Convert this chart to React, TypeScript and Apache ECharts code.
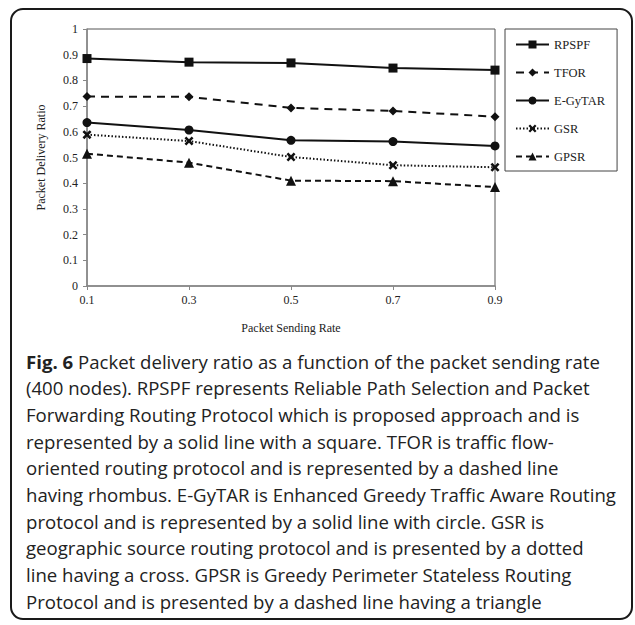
import React, { useEffect, useRef } from "react";
import * as echarts from "echarts";

// Packet sending rate (x categories)
const sendingRates = ["0.1", "0.3", "0.5", "0.7", "0.9"];

// Packet delivery ratio per protocol
const rpspf = [0.885, 0.871, 0.868, 0.848, 0.84];
const tfor = [0.737, 0.736, 0.693, 0.681, 0.659];
const egytar = [0.636, 0.607, 0.567, 0.562, 0.545];
const gsr = [0.589, 0.564, 0.502, 0.47, 0.462];
const gpsr = [0.515, 0.48, 0.41, 0.408, 0.385];

const captionLines = [
  "(400 nodes). RPSPF represents Reliable Path Selection and Packet",
  "Forwarding Routing Protocol which is proposed approach and is",
  "represented by a solid line with a square. TFOR is traffic flow-",
  "oriented routing protocol and is represented by a dashed line",
  "having rhombus. E-GyTAR is Enhanced Greedy Traffic Aware Routing",
  "protocol and is represented by a solid line with circle. GSR is",
  "geographic source routing protocol and is presented by a dotted",
  "line having a cross. GPSR is Greedy Perimeter Stateless Routing",
  "Protocol and is presented by a dashed line having a triangle",
];

const CROSS = "path://M0,2 L2,0 L5,3 L8,0 L10,2 L7,5 L10,8 L8,10 L5,7 L2,10 L0,8 L3,5 Z";
const INK = "#111";
const SERIF = "'Liberation Serif', 'Times New Roman', serif";
const SANS = "'Open Sans', 'Noto Sans', sans-serif";
const CAP_SIZE = 18.6;

export default function App() {
  const ref = useRef<HTMLDivElement>(null);

  useEffect(() => {
    if (!ref.current) return;
    const chart = echarts.init(ref.current, undefined, { renderer: "svg" });

    const mk = (
      name: string,
      data: number[],
      symbol: string,
      symbolSize: number,
      type: any
    ) => ({
      name,
      type: "line",
      data,
      symbol,
      symbolSize,
      showAllSymbol: true,
      itemStyle: { color: INK },
      lineStyle: { color: INK, width: 2, type },
      emphasis: { disabled: true },
    });

    const captionY0 = 361;
    const lineH = 26.7;

    const graphic: any[] = [
      {
        type: "rect",
        shape: { x: 11, y: 9, width: 621, height: 610, r: 12 },
        style: { fill: "none", stroke: "#1a1a1a", lineWidth: 2 },
        silent: true,
      },
      {
        type: "text",
        x: 26,
        y: captionY0,
        style: {
          text: "{b|Fig. 6} Packet delivery ratio as a function of the packet sending rate",
          font: `${CAP_SIZE}px ${SANS}`,
          fill: "#222",
          verticalAlign: "middle",
          rich: {
            b: { fontWeight: "bold", fontSize: CAP_SIZE, fontFamily: SANS, fill: "#222" },
          },
        },
      },
      ...captionLines.map((t, i) => ({
        type: "text",
        x: 26,
        y: captionY0 + lineH * (i + 1),
        style: {
          text: t,
          font: `${CAP_SIZE}px ${SANS}`,
          fill: "#222",
          verticalAlign: "middle",
        },
      })),
    ];

    chart.setOption({
      animation: false,
      backgroundColor: "#fff",
      grid: {
        left: 87,
        right: 140,
        top: 29,
        bottom: 339,
        show: true,
        borderColor: "#555",
        borderWidth: 1,
      },
      legend: {
        orient: "vertical",
        left: 505,
        top: 29,
        itemWidth: 33,
        itemHeight: 10,
        itemGap: 15,
        padding: [9, 12, 8, 10],
        borderColor: "#444",
        borderWidth: 1,
        textStyle: { fontFamily: SERIF, fontSize: 12.5, color: "#222" },
        data: ["RPSPF", "TFOR", "E-GyTAR", "GSR", "GPSR"],
      },
      xAxis: {
        type: "category",
        data: sendingRates,
        boundaryGap: false,
        name: "Packet Sending Rate",
        nameLocation: "middle",
        nameGap: 36,
        nameTextStyle: { fontFamily: SERIF, fontSize: 12, color: "#222" },
        axisLine: { lineStyle: { color: "#888", width: 1.5 } },
        axisTick: { show: true, length: 4, lineStyle: { color: "#888" } },
        axisLabel: { fontFamily: SERIF, fontSize: 12, color: "#222", margin: 8 },
        splitLine: { show: false },
      },
      yAxis: {
        type: "value",
        min: 0,
        max: 1,
        interval: 0.1,
        name: "Packet Delivery Ratio",
        nameLocation: "middle",
        nameRotate: 90,
        nameGap: 40,
        nameTextStyle: { fontFamily: SERIF, fontSize: 12, color: "#222" },
        axisLine: { show: true, lineStyle: { color: "#888", width: 1.5 } },
        axisTick: { show: true, length: 4, lineStyle: { color: "#888" } },
        axisLabel: {
          fontFamily: SERIF,
          fontSize: 12,
          color: "#222",
          margin: 9,
          formatter: (v: number) => (Math.round(v * 10) / 10).toString(),
        },
        splitLine: { show: false },
      },
      series: [
        mk("RPSPF", rpspf, "rect", 9, "solid"),
        mk("TFOR", tfor, "diamond", 9, [8, 6]),
        mk("E-GyTAR", egytar, "circle", 9, "solid"),
        mk("GSR", gsr, CROSS, 9, [1.5, 2]),
        mk("GPSR", gpsr, "triangle", 10, [6, 4]),
      ],
      graphic,
    });

    return () => chart.dispose();
  }, []);

  return (
    <div
      ref={ref}
      style={{
        position: "fixed",
        left: 0,
        top: 0,
        width: 635,
        height: 625,
        background: "#fff",
      }}
    />
  );
}
